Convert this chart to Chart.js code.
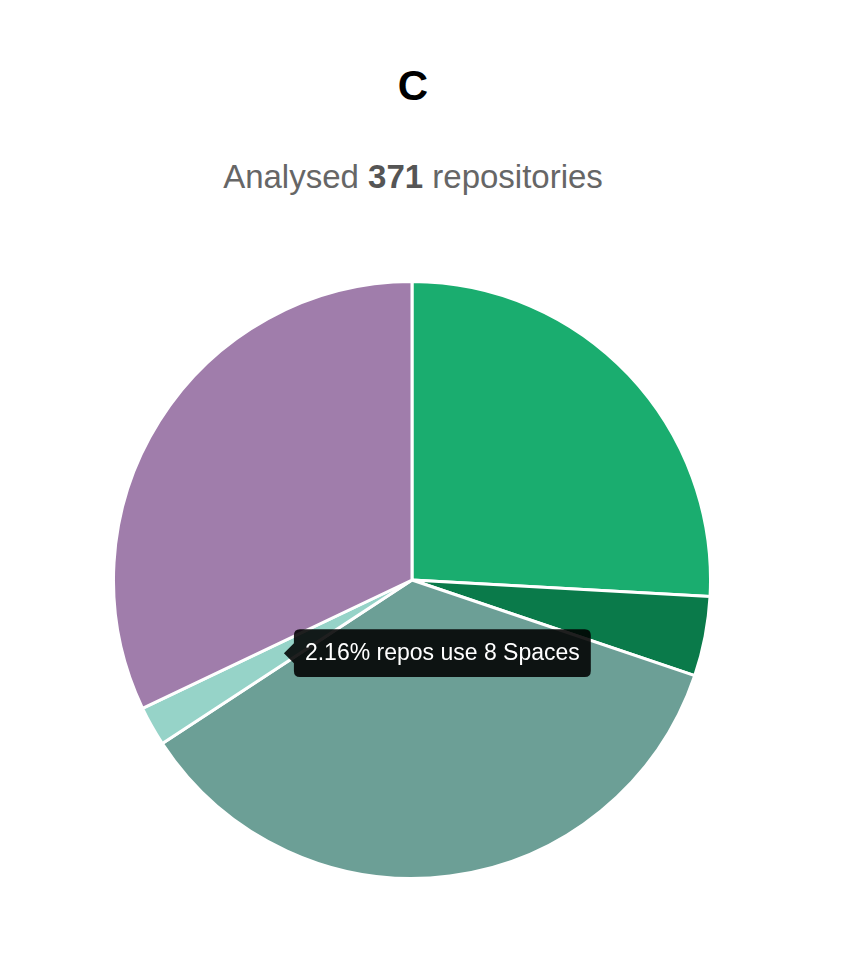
<!DOCTYPE html>
<html>
<head>
<meta charset="utf-8">
<script src="https://cdn.jsdelivr.net/npm/chart.js@4"></script>
<style>
  body { margin: 0; background: #fff; font-family: "Liberation Sans", Arial, sans-serif; }
  #title { position: absolute; top: 62px; width: 826px; text-align: center; font-size: 42px; font-weight: bold; color: #000; }
  #sub { position: absolute; top: 158px; width: 826px; text-align: center; font-size: 33px; color: #666; }
  #sub b { color: #555; }
  #wrap { position: absolute; left: 112px; top: 280px; width: 600px; height: 600px; }
</style>
</head>
<body>
<div id="title">C</div>
<div id="sub">Analysed <b>371</b> repositories</div>
<div id="wrap"><canvas id="chart"></canvas></div>
<script>
// --- Data ---
const labels = ['Tabs', '3 Spaces', '4 Spaces', '8 Spaces', '2 Spaces'];
const counts = [96, 16, 132, 8, 119];
const colors = ['#1aad6f', '#0a7a4a', '#6c9f96', '#96d3c8', '#a07dab'];
const total = counts.reduce((a, b) => a + b, 0);

// --- Chart ---
const ctx = document.getElementById('chart').getContext('2d');
const chart = new Chart(ctx, {
  type: 'pie',
  data: {
    labels: labels,
    datasets: [{
      data: counts,
      backgroundColor: colors,
      borderColor: '#fff',
      borderWidth: 3
    }]
  },
  options: {
    responsive: true,
    maintainAspectRatio: false,
    animation: false,
    events: [],
    layout: { padding: 0 },
    plugins: {
      legend: { display: false },
      tooltip: {
        backgroundColor: 'rgba(0,0,0,0.88)',
        displayColors: false,
        bodyFont: { size: 23, family: '"Liberation Sans", Arial, sans-serif' },
        padding: { x: 11, y: 10 },
        cornerRadius: 6,
        caretSize: 10,
        callbacks: {
          label: c => (c.raw / total * 100).toFixed(2) + '% repos use ' + c.label,
          title: () => ''
        }
      }
    }
  }
});

// show the 8 Spaces tooltip permanently
chart.tooltip.setActiveElements([{ datasetIndex: 0, index: 3 }], { x: 0, y: 0 });
chart.update();
</script>
</body>
</html>
